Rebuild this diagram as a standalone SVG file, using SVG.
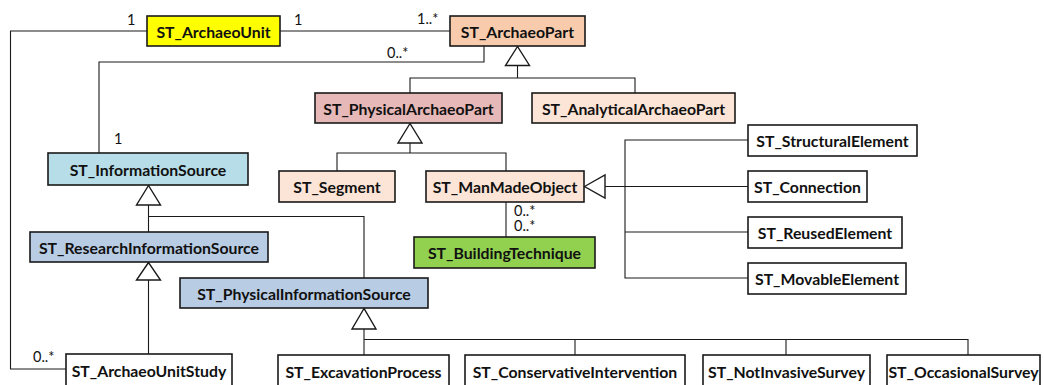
<svg xmlns="http://www.w3.org/2000/svg" width="1044" height="385" viewBox="0 0 1044 385">
<style>
.box{stroke:#1a1a1a;stroke-width:1.6}
.lbl{font-family:Lato,"Liberation Sans",sans-serif;font-weight:bold;font-size:15.8px;fill:#111;text-anchor:middle;dominant-baseline:central}
.m{font-family:Lato,"Liberation Sans",sans-serif;font-size:14.5px;fill:#111}
.c{fill:none;stroke:#1a1a1a;stroke-width:1.1}
.tri{fill:#fff;stroke:#1a1a1a;stroke-width:1.4}
</style>
<rect width="1044" height="385" fill="#fff"/>
<g id="connectors">
<polyline class="c" points="147,31 10.5,31 10.5,369 66,369"/>
<line class="c" x1="280" y1="31" x2="450" y2="31"/>
<polyline class="c" points="484,46 484,62 99,62 99,153"/>
<line class="c" x1="517.5" y1="65.5" x2="517.5" y2="78"/>
<polyline class="c" points="410,93 410,78 635,78 635,93"/>
<line class="c" x1="410" y1="143" x2="410" y2="153"/>
<polyline class="c" points="337,171 337,153 506,153 506,171"/>
<line class="c" x1="605" y1="186.5" x2="748" y2="186.5"/>
<polyline class="c" points="748,140 625,140 625,278 748,278"/>
<line class="c" x1="625" y1="232" x2="748" y2="232"/>
<line class="c" x1="506" y1="202" x2="506" y2="237"/>
<line class="c" x1="148.5" y1="205" x2="148.5" y2="232"/>
<polyline class="c" points="148.5,216.5 364,216.5 364,278"/>
<line class="c" x1="148.5" y1="280" x2="148.5" y2="354"/>
<line class="c" x1="364" y1="329" x2="364" y2="355"/>
<polyline class="c" points="364,339.5 968,339.5 968,355"/>
<line class="c" x1="575" y1="339.5" x2="575" y2="355"/>
<line class="c" x1="786" y1="339.5" x2="786" y2="355"/>
<polygon class="tri" points="517.5,46.5 505.5,65.5 529.5,65.5"/>
<polygon class="tri" points="410,123.5 398,143 422,143"/>
<polygon class="tri" points="584.5,186.5 605,175 605,198"/>
<polygon class="tri" points="148.5,185.5 136.5,205 160.5,205"/>
<polygon class="tri" points="148.5,262.5 136.5,280 160.5,280"/>
<polygon class="tri" points="364,308.5 352,329 376,329"/>
<text class="m" x="127" y="25">1</text>
<text class="m" x="294" y="25">1</text>
<text class="m" x="417" y="24">1..*</text>
<text class="m" x="387" y="58">0..*</text>
<text class="m" x="114" y="144">1</text>
<text class="m" x="514" y="216">0..*</text>
<text class="m" x="514" y="231">0..*</text>
<text class="m" x="33" y="362">0..*</text>
</g>
<g id="ArchaeoUnit"><rect class="box" x="147" y="16" width="133" height="30" fill="#FFFF00"/><text class="lbl" x="213.5" y="31">ST_ArchaeoUnit</text></g>
<g id="ArchaeoPart"><rect class="box" x="450" y="16" width="135" height="30" fill="#F8CBAD"/><text class="lbl" x="517.5" y="31">ST_ArchaeoPart</text></g>
<g id="PhysicalArchaeoPart"><rect class="box" x="315" y="93" width="187" height="30" fill="#E6B8B7"/><text class="lbl" x="408.5" y="108">ST_PhysicalArchaeoPart</text></g>
<g id="AnalyticalArchaeoPart"><rect class="box" x="532" y="93" width="203" height="30" fill="#FCE4D6"/><text class="lbl" x="633.5" y="108">ST_AnalyticalArchaeoPart</text></g>
<g id="Segment"><rect class="box" x="279" y="171" width="116" height="31" fill="#FCE4D6"/><text class="lbl" x="337" y="186.5">ST_Segment</text></g>
<g id="ManMadeObject"><rect class="box" x="426" y="171" width="158" height="31" fill="#FCE4D6"/><text class="lbl" x="505" y="186.5">ST_ManMadeObject</text></g>
<g id="StructuralElement"><rect class="box" x="748" y="125" width="169" height="31" fill="#fff"/><text class="lbl" x="832.5" y="140.5">ST_StructuralElement</text></g>
<g id="Connection"><rect class="box" x="748" y="171" width="119" height="31" fill="#fff"/><text class="lbl" x="807.5" y="186.5">ST_Connection</text></g>
<g id="ReusedElement"><rect class="box" x="748" y="217" width="154" height="31" fill="#fff"/><text class="lbl" x="825" y="232.5">ST_ReusedElement</text></g>
<g id="MovableElement"><rect class="box" x="748" y="263" width="158" height="31" fill="#fff"/><text class="lbl" x="827" y="278.5">ST_MovableElement</text></g>
<g id="BuildingTechnique"><rect class="box" x="414" y="237" width="181" height="31" fill="#92D050"/><text class="lbl" x="504.5" y="252.5">ST_BuildingTechnique</text></g>
<g id="InformationSource"><rect class="box" x="48" y="153" width="200" height="32" fill="#B7DEE8"/><text class="lbl" x="148" y="169">ST_InformationSource</text></g>
<g id="ResearchInformationSource"><rect class="box" x="30" y="232" width="238" height="30" fill="#B8CCE4"/><text class="lbl" x="149" y="247">ST_ResearchInformationSource</text></g>
<g id="PhysicalInformationSource"><rect class="box" x="180" y="278" width="248" height="30" fill="#B8CCE4"/><text class="lbl" x="304" y="293">ST_PhysicalInformationSource</text></g>
<g id="ArchaeoUnitStudy"><rect class="box" x="66" y="354" width="166" height="34" fill="#fff"/><text class="lbl" x="149" y="370">ST_ArchaeoUnitStudy</text></g>
<g id="ExcavationProcess"><rect class="box" x="278" y="355" width="171" height="34" fill="#fff"/><text class="lbl" x="363.5" y="371">ST_ExcavationProcess</text></g>
<g id="ConservativeIntervention"><rect class="box" x="465" y="355" width="220" height="34" fill="#fff"/><text class="lbl" x="575" y="371">ST_ConservativeIntervention</text></g>
<g id="NotInvasiveSurvey"><rect class="box" x="703" y="355" width="167" height="34" fill="#fff"/><text class="lbl" x="786.5" y="371">ST_NotInvasiveSurvey</text></g>
<g id="OccasionalSurvey"><rect class="box" x="887" y="355" width="153" height="34" fill="#fff"/><text class="lbl" x="963.5" y="371">ST_OccasionalSurvey</text></g>
</svg>
